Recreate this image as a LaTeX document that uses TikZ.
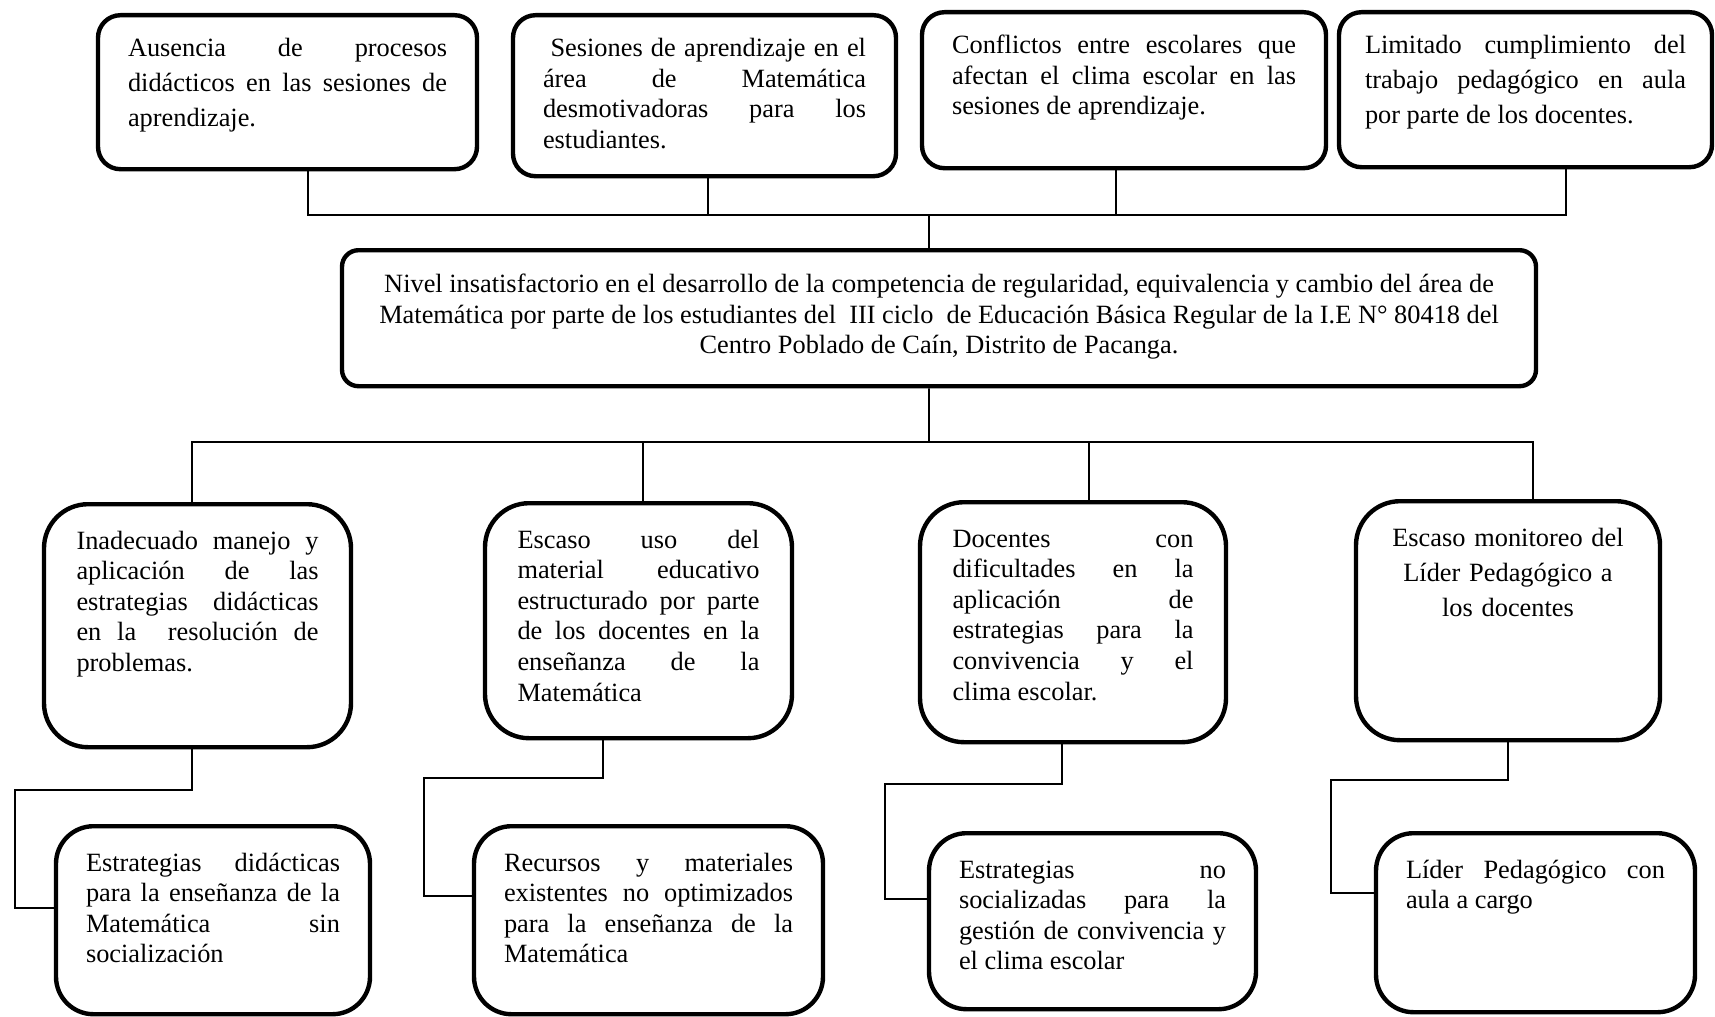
\documentclass[tikz,border=0pt]{standalone}
\usepackage{fontspec}
\setmainfont{Liberation Serif}

\newcommand{\txt}{\fontsize{15}{17.4}\selectfont\hyphenpenalty=10000\exhyphenpenalty=10000}
\newcommand{\txtw}{\fontsize{15}{19.9}\selectfont\hyphenpenalty=10000\exhyphenpenalty=10000}

\begin{document}
\begin{tikzpicture}[
            box/.style = {draw, line width=2.5pt, anchor=north, align=justify,
                          inner ysep=2.8mm, font=\txt},
         topbox/.style = {box, rounded corners=4.5mm, inner xsep=6mm, text height=5.5mm},
         midbox/.style = {box, rounded corners=8.8mm, inner xsep=6.5mm, text height=6.2mm},
         lowbox/.style = {box, rounded corners=7.5mm, inner xsep=6mm, text height=6.2mm},
           link/.style = {draw, line width=0.9pt},
                   ]
\useasboundingbox (0,0) rectangle (34.3,-20.32);

% causas
\node[topbox, font=\txtw, text width=63.8mm, text depth=19.7mm] (t1) at (5.75,-0.26)
    {Ausencia de procesos\linebreak didácticos en las sesiones de\linebreak aprendizaje.};
\node[topbox, text width=64.6mm, text depth=21.1mm] (t2) at (14.09,-0.26)
    {\hspace*{1.5mm}Sesiones de aprendizaje en el\linebreak área de Matemática\linebreak
     desmotivadoras para los\linebreak estudiantes.};
\node[topbox, text width=68.8mm, text depth=20.1mm] (t3) at (22.48,-0.20)
    {Conflictos entre escolares que\linebreak afectan el clima escolar en las\linebreak
     sesiones de aprendizaje.};
\node[topbox, font=\txtw, inner xsep=5.2mm, text width=64.2mm, text depth=19.9mm] (t4) at (30.51,-0.20)
    {Limitado cumplimiento del\linebreak trabajo pedagógico en aula\linebreak
     por parte de los docentes.};

% problema
\node[box, align=center, rounded corners=3.3mm, inner xsep=6mm, text height=17.9mm,
      minimum width=238.8mm, text depth=3.7mm] (cen) at (18.78,-4.96)
    {Nivel insatisfactorio en el desarrollo de la competencia de regularidad, equivalencia y cambio del área de\\
     Matemática por parte de los estudiantes del\ \ III ciclo\ \ de Educación Básica Regular de la I.E N° 80418 del\\
     Centro Poblado de Caín, Distrito de Pacanga.};

% efectos
\node[midbox, text width=48.4mm, text depth=36.8mm] (m1) at (3.95,-10.04)
    {Inadecuado manejo y\linebreak aplicación de las\linebreak estrategias didácticas\linebreak
     en la\ \ resolución de\linebreak problemas.};
\node[midbox, text width=48.4mm, text depth=35.2mm] (m2) at (12.77,-10.02)
    {Escaso uso del\linebreak material educativo\linebreak estructurado por parte\linebreak
     de los docentes en la\linebreak enseñanza de la\linebreak Matemática};
\node[midbox, text width=48.2mm, text depth=36.2mm] (m3) at (21.46,-10.00)
    {Docentes con\linebreak dificultades en la\linebreak aplicación de\linebreak
     estrategias para la\linebreak convivencia y el\linebreak clima escolar.};
\node[midbox, align=center, font=\txtw, text width=47.8mm, text depth=36mm] (m4) at (30.16,-9.98)
    {Escaso monitoreo del\\ Líder Pedagógico a\\ los docentes};

\node[lowbox, text width=50.8mm, text depth=25.8mm] (b1) at (4.26,-16.48)
    {Estrategias didácticas\linebreak para la enseñanza de la\linebreak Matemática sin\linebreak
     socialización};
\node[lowbox, text width=57.8mm, text depth=25.8mm] (b2) at (12.97,-16.48)
    {Recursos y materiales\linebreak existentes no optimizados\linebreak
     para la enseñanza de la\linebreak Matemática};
\node[lowbox, text width=53.4mm, text depth=23.4mm] (b3) at (21.85,-16.62)
    {Estrategias no\linebreak socializadas para la\linebreak gestión de convivencia y\linebreak
     el clima escolar};
\node[lowbox, text width=51.8mm, text depth=24mm] (b4) at (30.71,-16.62)
    {Líder Pedagógico con\linebreak aula a cargo};

% conectores
\coordinate (tj) at (18.58,-4.30);
\coordinate (bj) at (18.58,-8.84);
\draw[link] ([xshift=4.1mm]t1.south) |- (tj);
\draw[link] ([xshift=0.7mm]t2.south) |- (tj);
\draw[link] ([xshift=-1.6mm]t3.south) |- (tj);
\draw[link] ([xshift=8.1mm]t4.south) |- (tj);
\draw[link] ([xshift=-2mm]cen.north) -- (tj);
\draw[link] ([xshift=-2mm]cen.south) -- (bj);
\draw[link] (bj) -| ([xshift=-1.1mm]m1.north);
\draw[link] (bj) -| ([xshift=0.9mm]m2.north);
\draw[link] (bj) -| ([xshift=3.2mm]m3.north);
\draw[link] (bj) -| ([xshift=5mm]m4.north);

\coordinate (k1) at (0.30,-15.80);
\coordinate (k2) at (8.48,-15.56);
\coordinate (k3) at (17.70,-15.68);
\coordinate (k4) at (26.62,-15.60);
\draw[link] ([xshift=-1.1mm]m1.south) |- (k1) |- ([yshift=2.4mm]b1.west);
\draw[link] ([xshift=-7.1mm]m2.south) |- (k2) |- ([yshift=4.8mm]b2.west);
\draw[link] ([xshift=-2.2mm]m3.south) |- (k3) |- ([yshift=4.4mm]b3.west);
\draw[link] (m4.south) |- (k4) |- ([yshift=5.9mm]b4.west);
\end{tikzpicture}
\end{document}
